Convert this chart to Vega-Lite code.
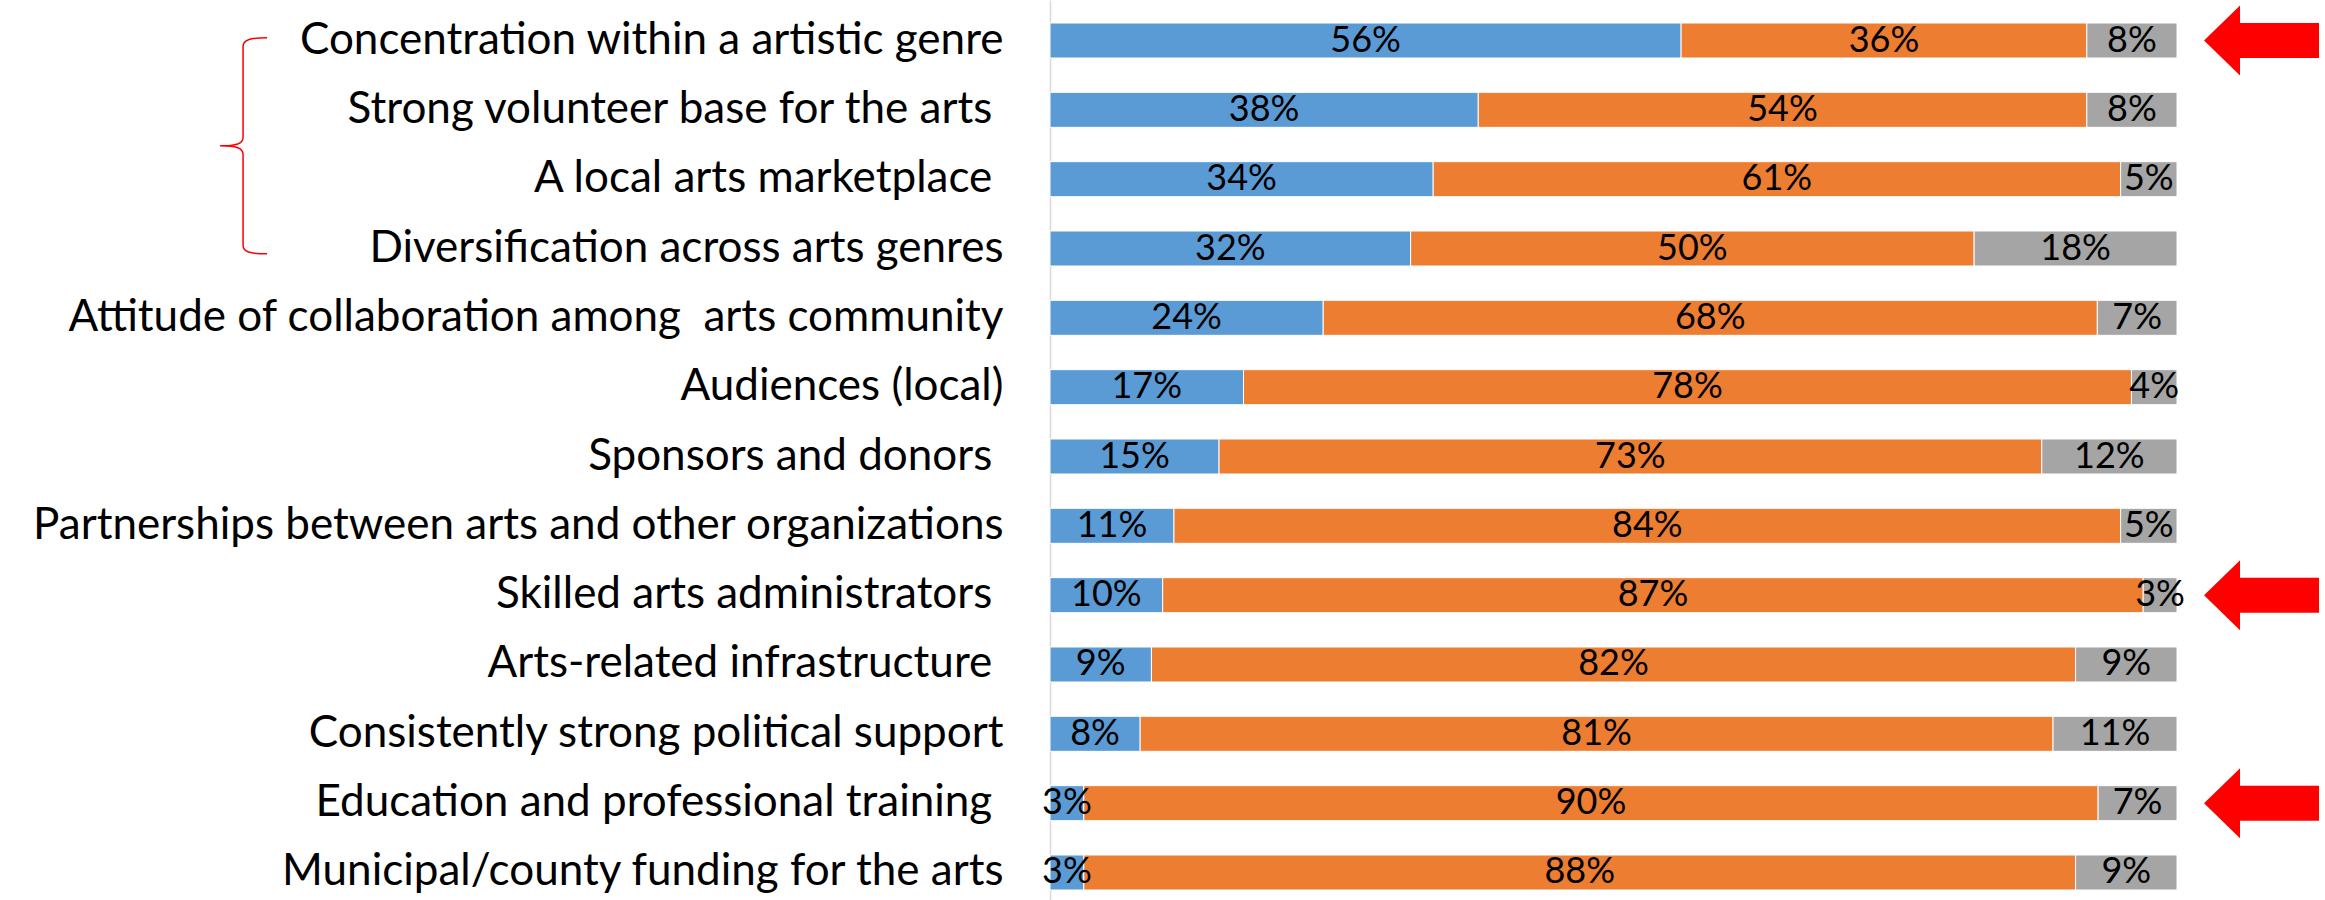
{
  "$schema": "https://vega.github.io/schema/vega-lite/v6.json",
  "width": 1127,
  "height": 900,
  "autosize": {"type": "none"},
  "padding": {"left": 1050, "right": 148, "top": 0, "bottom": 0},
  "background": "white",
  "config": {"view": {"stroke": null}},
  "datasets": {
    "bars": [
      {"category": "Concentration within a artistic genre", "series": "Strength", "k": 1, "value": 0.56},
      {"category": "Concentration within a artistic genre", "series": "Weakness", "k": 2, "value": 0.36},
      {"category": "Concentration within a artistic genre", "series": "Not sure", "k": 3, "value": 0.08},
      {"category": "Strong volunteer base for the arts ", "series": "Strength", "k": 1, "value": 0.38},
      {"category": "Strong volunteer base for the arts ", "series": "Weakness", "k": 2, "value": 0.54},
      {"category": "Strong volunteer base for the arts ", "series": "Not sure", "k": 3, "value": 0.08},
      {"category": "A local arts marketplace ", "series": "Strength", "k": 1, "value": 0.34},
      {"category": "A local arts marketplace ", "series": "Weakness", "k": 2, "value": 0.61},
      {"category": "A local arts marketplace ", "series": "Not sure", "k": 3, "value": 0.05},
      {"category": "Diversification across arts genres", "series": "Strength", "k": 1, "value": 0.32},
      {"category": "Diversification across arts genres", "series": "Weakness", "k": 2, "value": 0.50},
      {"category": "Diversification across arts genres", "series": "Not sure", "k": 3, "value": 0.18},
      {"category": "Attitude of collaboration among  arts community", "series": "Strength", "k": 1, "value": 0.24},
      {"category": "Attitude of collaboration among  arts community", "series": "Weakness", "k": 2, "value": 0.68},
      {"category": "Attitude of collaboration among  arts community", "series": "Not sure", "k": 3, "value": 0.07},
      {"category": "Audiences (local)", "series": "Strength", "k": 1, "value": 0.17},
      {"category": "Audiences (local)", "series": "Weakness", "k": 2, "value": 0.78},
      {"category": "Audiences (local)", "series": "Not sure", "k": 3, "value": 0.04},
      {"category": "Sponsors and donors ", "series": "Strength", "k": 1, "value": 0.15},
      {"category": "Sponsors and donors ", "series": "Weakness", "k": 2, "value": 0.73},
      {"category": "Sponsors and donors ", "series": "Not sure", "k": 3, "value": 0.12},
      {"category": "Partnerships between arts and other organizations", "series": "Strength", "k": 1, "value": 0.11},
      {"category": "Partnerships between arts and other organizations", "series": "Weakness", "k": 2, "value": 0.84},
      {"category": "Partnerships between arts and other organizations", "series": "Not sure", "k": 3, "value": 0.05},
      {"category": "Skilled arts administrators ", "series": "Strength", "k": 1, "value": 0.10},
      {"category": "Skilled arts administrators ", "series": "Weakness", "k": 2, "value": 0.87},
      {"category": "Skilled arts administrators ", "series": "Not sure", "k": 3, "value": 0.03},
      {"category": "Arts-related infrastructure ", "series": "Strength", "k": 1, "value": 0.09},
      {"category": "Arts-related infrastructure ", "series": "Weakness", "k": 2, "value": 0.82},
      {"category": "Arts-related infrastructure ", "series": "Not sure", "k": 3, "value": 0.09},
      {"category": "Consistently strong political support", "series": "Strength", "k": 1, "value": 0.08},
      {"category": "Consistently strong political support", "series": "Weakness", "k": 2, "value": 0.81},
      {"category": "Consistently strong political support", "series": "Not sure", "k": 3, "value": 0.11},
      {"category": "Education and professional training ", "series": "Strength", "k": 1, "value": 0.03},
      {"category": "Education and professional training ", "series": "Weakness", "k": 2, "value": 0.90},
      {"category": "Education and professional training ", "series": "Not sure", "k": 3, "value": 0.07},
      {"category": "Municipal/county funding for the arts", "series": "Strength", "k": 1, "value": 0.03},
      {"category": "Municipal/county funding for the arts", "series": "Weakness", "k": 2, "value": 0.88},
      {"category": "Municipal/county funding for the arts", "series": "Not sure", "k": 3, "value": 0.09}
    ],
    "arrows": [
      {"category": "Concentration within a artistic genre", "pos": 1.075},
      {"category": "Skilled arts administrators ", "pos": 1.075},
      {"category": "Education and professional training ", "pos": 1.075}
    ],
    "brace": [
      {"category": "Strong volunteer base for the arts ", "pos": -0.716}
    ]
  },
  "encoding": {
    "y": {
      "field": "category",
      "type": "nominal",
      "sort": null,
      "scale": {
        "domain": [
          "Concentration within a artistic genre",
          "Strong volunteer base for the arts ",
          "A local arts marketplace ",
          "Diversification across arts genres",
          "Attitude of collaboration among  arts community",
          "Audiences (local)",
          "Sponsors and donors ",
          "Partnerships between arts and other organizations",
          "Skilled arts administrators ",
          "Arts-related infrastructure ",
          "Consistently strong political support",
          "Education and professional training ",
          "Municipal/county funding for the arts"
        ],
        "paddingInner": 0.495,
        "paddingOuter": 0.238,
        "align": 0.697
      },
      "axis": {
        "title": null,
        "ticks": false,
        "domain": true,
        "domainColor": "#D9D9D9",
        "domainWidth": 1.5,
        "labelFont": "Lato",
        "labelFontSize": 44,
        "labelColor": "#000000",
        "labelPadding": 47,
        "labelLimit": 1100,
        "labelExpr": "replace(datum.label, regexp(' ', 'g'), '\u00a0') + '\u200b'"
      }
    }
  },
  "layer": [
    {
      "data": {"name": "bars"},
      "mark": {"type": "bar", "stroke": "white", "strokeWidth": 1},
      "encoding": {
        "x": {
          "field": "value",
          "type": "quantitative",
          "stack": "normalize",
          "scale": {"domain": [0, 1], "nice": false, "zero": true},
          "axis": null
        },
        "color": {
          "field": "series",
          "type": "nominal",
          "scale": {"domain": ["Strength", "Weakness", "Not sure"], "range": ["#5B9BD5", "#ED7D31", "#A5A5A5"]},
          "legend": null
        },
        "order": {"field": "k", "type": "quantitative"}
      }
    },
    {
      "data": {"name": "bars"},
      "mark": {"type": "text", "font": "Lato", "fontSize": 36, "color": "#000000", "align": "center", "baseline": "middle"},
      "encoding": {
        "x": {"field": "value", "type": "quantitative", "stack": "normalize", "bandPosition": 0.5},
        "detail": {"field": "series", "type": "nominal"},
        "order": {"field": "k", "type": "quantitative"},
        "text": {"field": "value", "type": "quantitative", "format": ".0%"}
      }
    },
    {
      "data": {"name": "arrows"},
      "mark": {
        "type": "point",
        "shape": "M-1,0 L-0.374,-0.609 L-0.374,-0.304 L1,-0.304 L1,0.304 L-0.374,0.304 L-0.374,0.609 Z",
        "size": 13225,
        "filled": true,
        "color": "#FF0000",
        "opacity": 1,
        "strokeWidth": 0
      },
      "encoding": {
        "x": {"field": "pos", "type": "quantitative"}
      }
    },
    {
      "data": {"name": "brace"},
      "mark": {
        "type": "point",
        "shape": "M0.222,-1 C0.06,-1 0,-0.98 0,-0.92 L0,-0.08 C0,-0.02 -0.06,0 -0.213,0 C-0.06,0 0,0.02 0,0.08 L0,0.92 C0,0.98 0.06,1 0.222,1",
        "size": 46656,
        "filled": false,
        "color": "#FF0000",
        "opacity": 1,
        "strokeWidth": 1.5,
        "yOffset": 36
      },
      "encoding": {
        "x": {"field": "pos", "type": "quantitative"}
      }
    }
  ]
}
